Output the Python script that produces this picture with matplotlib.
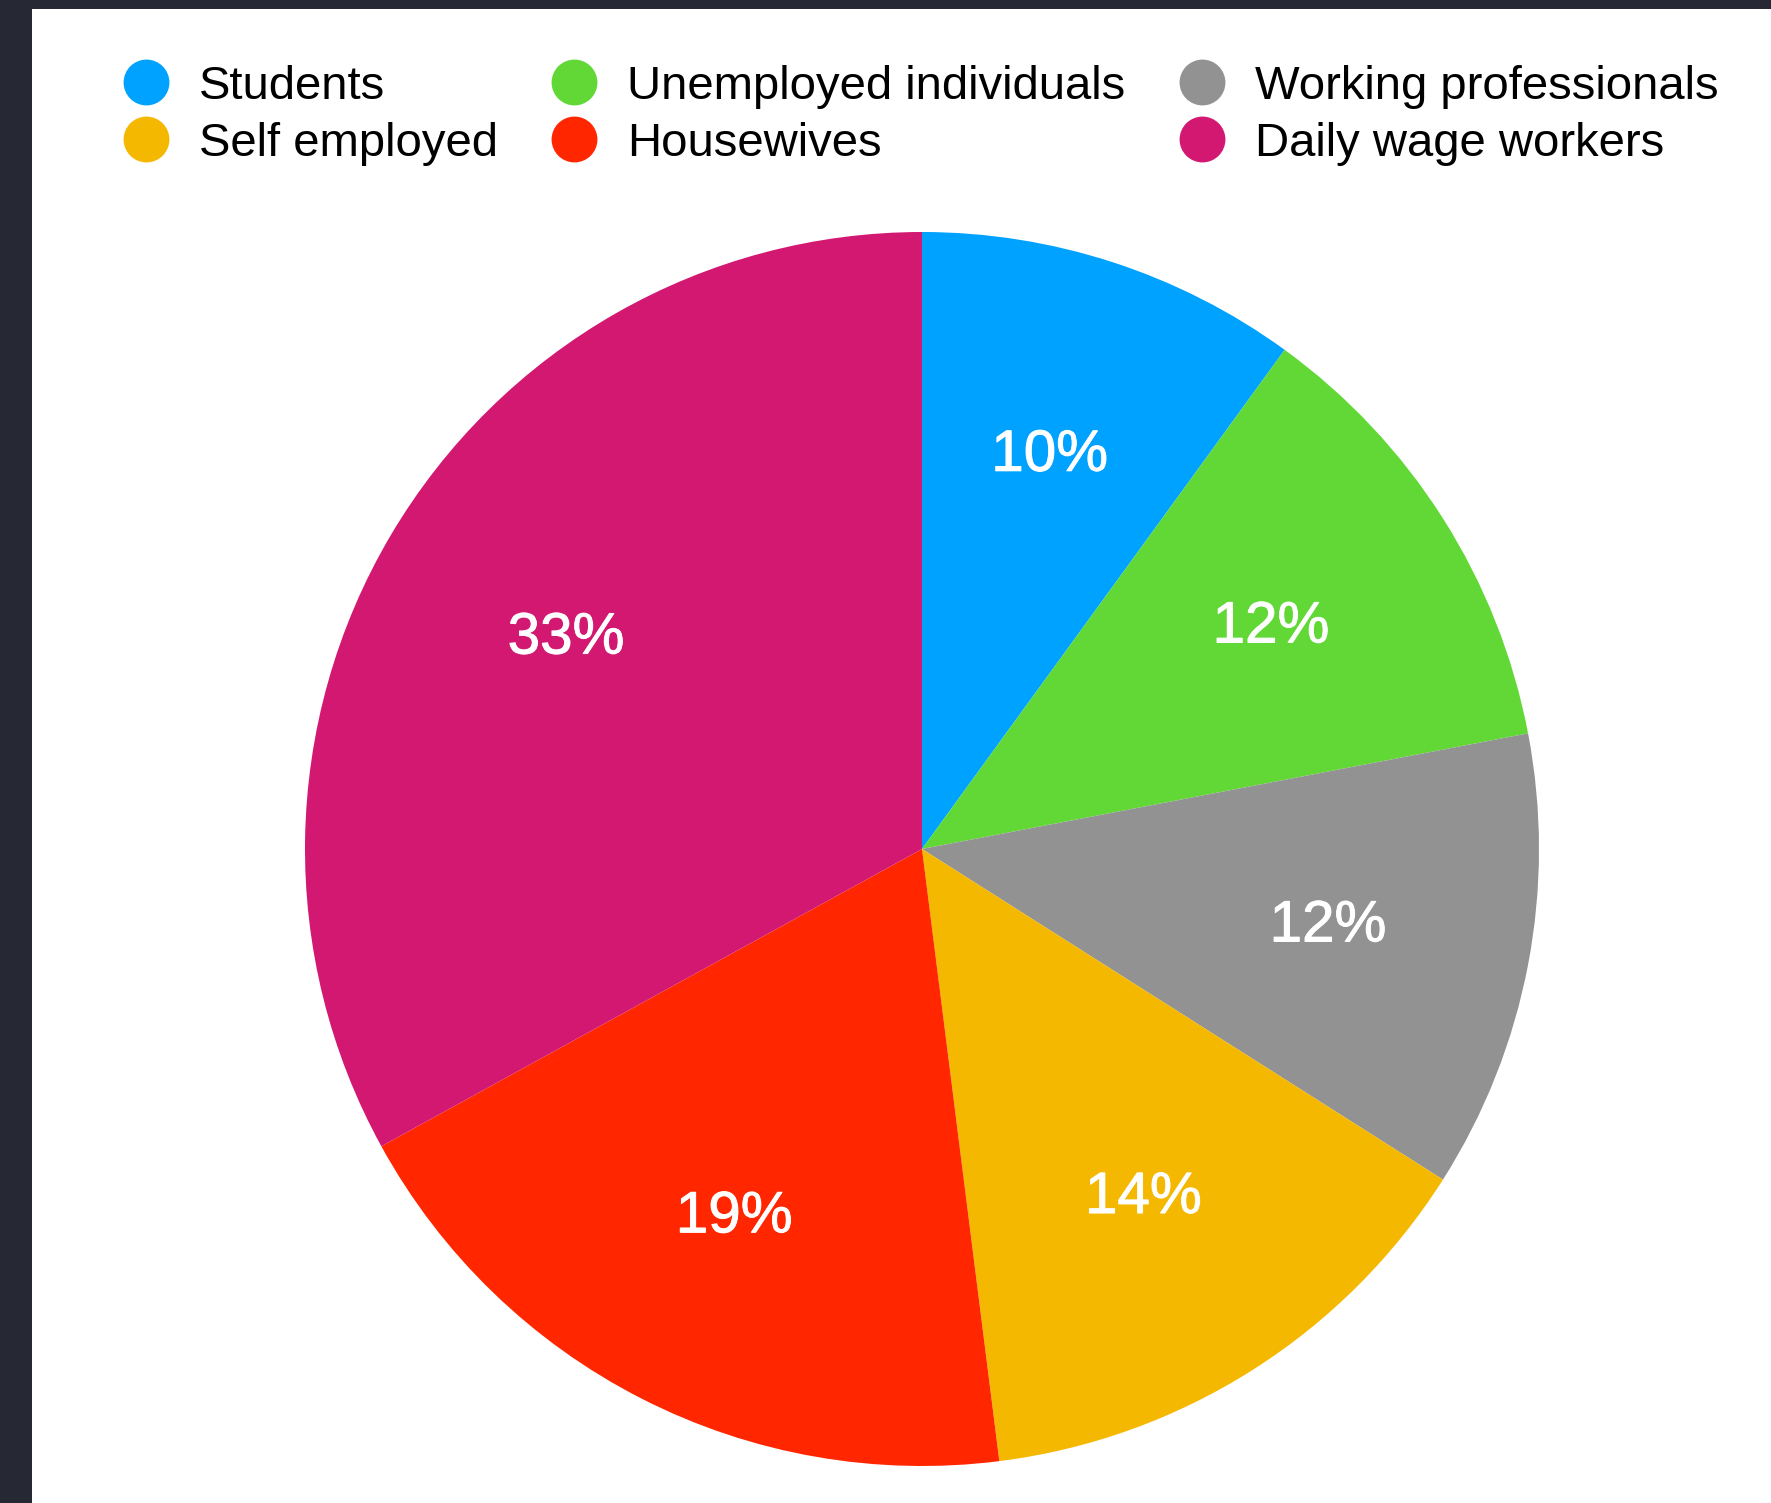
import matplotlib
matplotlib.use("Agg")
import matplotlib.pyplot as plt
import matplotlib.patheffects as pe
from matplotlib.lines import Line2D
from matplotlib.patches import Rectangle

plt.rcParams['font.family'] = ['Liberation Sans', 'DejaVu Sans']

# share of each group (%), clockwise from 12 o'clock
groups = ['Students', 'Unemployed individuals', 'Working professionals',
          'Self employed', 'Housewives', 'Daily wage workers']
shares = [10, 12, 12, 14, 19, 33]
colors = ['#00A2FF', '#61D836', '#929292', '#F5B800', '#FF2600', '#D31872']

# legend is laid out row by row, three columns
legend_order = ['Students', 'Unemployed individuals', 'Working professionals',
                'Self employed', 'Housewives', 'Daily wage workers']

W, H = 1771, 1503
fig = plt.figure(figsize=(W / 100, H / 100), dpi=100)
fig.patch.set_facecolor('white')

# dark window frame on the left and top edges
dark = '#262833'
fig.add_artist(Rectangle((0, 0), 32 / W, 1, transform=fig.transFigure,
                         facecolor=dark, edgecolor='none', zorder=0))
fig.add_artist(Rectangle((0, 1 - 9 / H), 1, 9 / H, transform=fig.transFigure,
                         facecolor=dark, edgecolor='none', zorder=0))

# pie axes: centre (922, 849) px from top-left, radius 617 px
cx, cy, r = 922, 849, 617
ax = fig.add_axes([(cx - r) / W, (H - cy - r) / H, 2 * r / W, 2 * r / H])
wedges, texts, autotexts = ax.pie(
    shares, colors=colors, startangle=90, counterclock=False,
    autopct='%d%%', pctdistance=0.67, radius=1,
    wedgeprops=dict(linewidth=0),
    textprops=dict(color='white', fontsize=42))
for t in autotexts:
    # slightly heavier strokes for the percentage labels
    t.set_path_effects([pe.Stroke(linewidth=0.7, foreground='white'), pe.Normal()])
ax.set_xlim(-1, 1)
ax.set_ylim(-1, 1)
ax.set_aspect('equal')
ax.axis('off')

# legend entries drawn in figure pixel coordinates
col_marker_x = [146, 574, 1202]
row_y = [82, 139]
for i, name in enumerate(legend_order):
    row, col = divmod(i, 3)
    c = colors[groups.index(name)]
    x = col_marker_x[col]
    y = row_y[row]
    fig.add_artist(Line2D([x / W], [1 - y / H], transform=fig.transFigure,
                          marker='o', markersize=32, color=c, linestyle=''))
    fig.text((x + 53) / W, 1 - y / H, name, fontsize=34, color='black',
             ha='left', va='center_baseline')

fig.savefig('out.png', dpi=100)
